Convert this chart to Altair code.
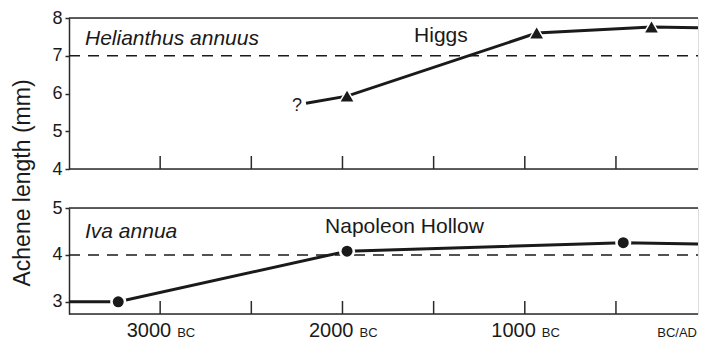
import altair as alt
import pandas as pd

# --- data -------------------------------------------------------------
# Helianthus annuus (Higgs) achene length, mm; year negative = BC
h_years = [-2200, -1975, -935, -305, 0]
h_vals = [5.74, 5.93, 7.60, 7.76, 7.74]
h_marker = [False, True, True, True, False]

# Iva annua (Napoleon Hollow)
i_years = [-3500, -3230, -1975, -460, 0]
i_vals = [3.00, 3.00, 4.08, 4.26, 4.23]
i_marker = [False, True, True, True, False]

tick_years = [-3000, -2500, -2000, -1500, -1000, -500]
label_years = [-3000, -2000, -1000]
label_nums = ["3000", "2000", "1000"]
label_era = ["BC", "BC", "BC"]
end_label = ["BC/AD"]

species = ["Helianthus annuus", "Iva annua"]
species_y = [7.45, 4.49]
sites = ["Higgs", "Napoleon Hollow"]
site_x = [-1460, -1660]
site_y = [7.52, 4.6]
thresholds = [7, 4]
query_x = [-2250]
query_y = [5.66]
query_t = ["?"]
y_title = "Achene length (mm)"

# --- styling -----------------------------------------------------------
W = 629
H1 = 151
H2 = 106
GAP = 39
FONT = "Liberation Sans"
INK = "#1a1a1a"
FRAME = "#2a2a2a"

# the picture is cut just before the BC/AD line, so the visible range ends a bit short of 0
xscale = alt.Scale(domain=[-3500, -50], nice=False, zero=False)


def yaxis(vals):
    return alt.Axis(values=vals, title=None, grid=False, domain=True,
                    domainColor=FRAME, domainWidth=1.5, ticks=True,
                    tickSize=4, tickWidth=1.5, tickColor=FRAME,
                    labelFontSize=18, labelFont=FONT, labelColor=INK,
                    labelPadding=3)


def panel(years, vals, marker, ydom, yvals, H, shape, big, small,
          thr, sp, spy, site, sx, sy):
    df = pd.DataFrame({"year": years, "val": vals, "marker": marker})
    ysc = alt.Scale(domain=ydom, nice=False, zero=False)
    X = alt.X("year:Q", scale=xscale, axis=None)
    Y = alt.Y("val:Q", scale=ysc, axis=yaxis(yvals))
    one = pd.DataFrame({"k": [0]})

    top_line = alt.Chart(one).mark_rule(color=FRAME, strokeWidth=1.5).encode(
        x=alt.value(0), x2=alt.value(W), y=alt.value(0))
    bot_line = alt.Chart(one).mark_rule(color=FRAME, strokeWidth=1.5).encode(
        x=alt.value(0), x2=alt.value(W), y=alt.value(H))
    ticks = alt.Chart(pd.DataFrame({"year": tick_years})).mark_rule(
        color=FRAME, strokeWidth=1.5).encode(
        x=alt.X("year:Q", scale=xscale, axis=None),
        y=alt.value(H - 13), y2=alt.value(H))
    dash = alt.Chart(pd.DataFrame({"t": [thr]})).mark_rule(
        color=INK, strokeWidth=1.5, strokeDash=[11, 8]).encode(
        y=alt.Y("t:Q", scale=ysc, axis=yaxis(yvals)),
        x=alt.value(0), x2=alt.value(W))
    line = alt.Chart(df).mark_line(color=INK, strokeWidth=3, clip=True).encode(x=X, y=Y)
    pts = alt.Chart(df).transform_filter("datum.marker")
    back = pts.mark_point(shape=shape, filled=True, size=big, color="white",
                          opacity=1).encode(x=X, y=Y)
    fore = pts.mark_point(shape=shape, filled=True, size=small, color=INK,
                          opacity=1).encode(x=X, y=Y)
    sp_txt = alt.Chart(pd.DataFrame({"t": [sp], "y": [spy]})).mark_text(
        font=FONT, fontSize=21, fontStyle="italic", color=INK,
        align="left", baseline="middle").encode(
        x=alt.value(16), y=alt.Y("y:Q", scale=ysc, axis=yaxis(yvals)),
        text="t:N")
    site_txt = alt.Chart(pd.DataFrame({"t": [site], "x": [sx], "y": [sy]})).mark_text(
        font=FONT, fontSize=21, color=INK, align="center",
        baseline="middle").encode(
        x=alt.X("x:Q", scale=xscale, axis=None),
        y=alt.Y("y:Q", scale=ysc, axis=yaxis(yvals)), text="t:N")
    return ysc, [top_line, bot_line, ticks, dash, line, back, fore, sp_txt, site_txt]


ysc1, top_layers = panel(h_years, h_vals, h_marker, [4, 8], [4, 5, 6, 7, 8], H1,
                         "triangle-up", 380, 160, thresholds[0], species[0],
                         species_y[0], sites[0], site_x[0], site_y[0])
q_txt = alt.Chart(pd.DataFrame({"t": query_t, "x": query_x, "y": query_y})).mark_text(
    font=FONT, fontSize=18, color=INK, align="center", baseline="middle").encode(
    x=alt.X("x:Q", scale=xscale, axis=None),
    y=alt.Y("y:Q", scale=ysc1, axis=yaxis([4, 5, 6, 7, 8])), text="t:N")
ytitle = alt.Chart(pd.DataFrame({"t": [y_title]})).mark_text(
    font=FONT, fontSize=23, color=INK, angle=270, align="center",
    baseline="middle").encode(x=alt.value(-46.5), y=alt.value(165), text="t:N")
top = alt.layer(*top_layers, q_txt, ytitle).properties(width=W, height=H1)

ysc2, bot_layers = panel(i_years, i_vals, i_marker, [2.74, 5], [3, 4, 5], H2,
                         "circle", 260, 120, thresholds[1], species[1],
                         species_y[1], sites[1], site_x[1], site_y[1])
nums = alt.Chart(pd.DataFrame({"year": label_years, "t": label_nums})).mark_text(
    font=FONT, fontSize=20, color=INK, align="right", baseline="alphabetic",
    dx=11).encode(x=alt.X("year:Q", scale=xscale, axis=None),
                  y=alt.value(H2 + 23), text="t:N")
eras = alt.Chart(pd.DataFrame({"year": label_years, "t": label_era})).mark_text(
    font=FONT, fontSize=13, color=INK, align="left", baseline="alphabetic",
    dx=17).encode(x=alt.X("year:Q", scale=xscale, axis=None),
                  y=alt.value(H2 + 23), text="t:N")
endl = alt.Chart(pd.DataFrame({"t": end_label})).mark_text(
    font=FONT, fontSize=13, color=INK, align="right", baseline="alphabetic").encode(
    x=alt.value(W - 1), y=alt.value(H2 + 23), text="t:N")
bot = alt.layer(*bot_layers, nums, eras, endl).properties(width=W, height=H2)

chart = alt.vconcat(top, bot, spacing=GAP, bounds="flush").properties(
    padding={"left": 3, "top": 0, "right": 0, "bottom": 0}
).configure_view(stroke=None).configure(background="white")

chart.save("out.html", embed_options={"renderer": "svg", "actions": False})
